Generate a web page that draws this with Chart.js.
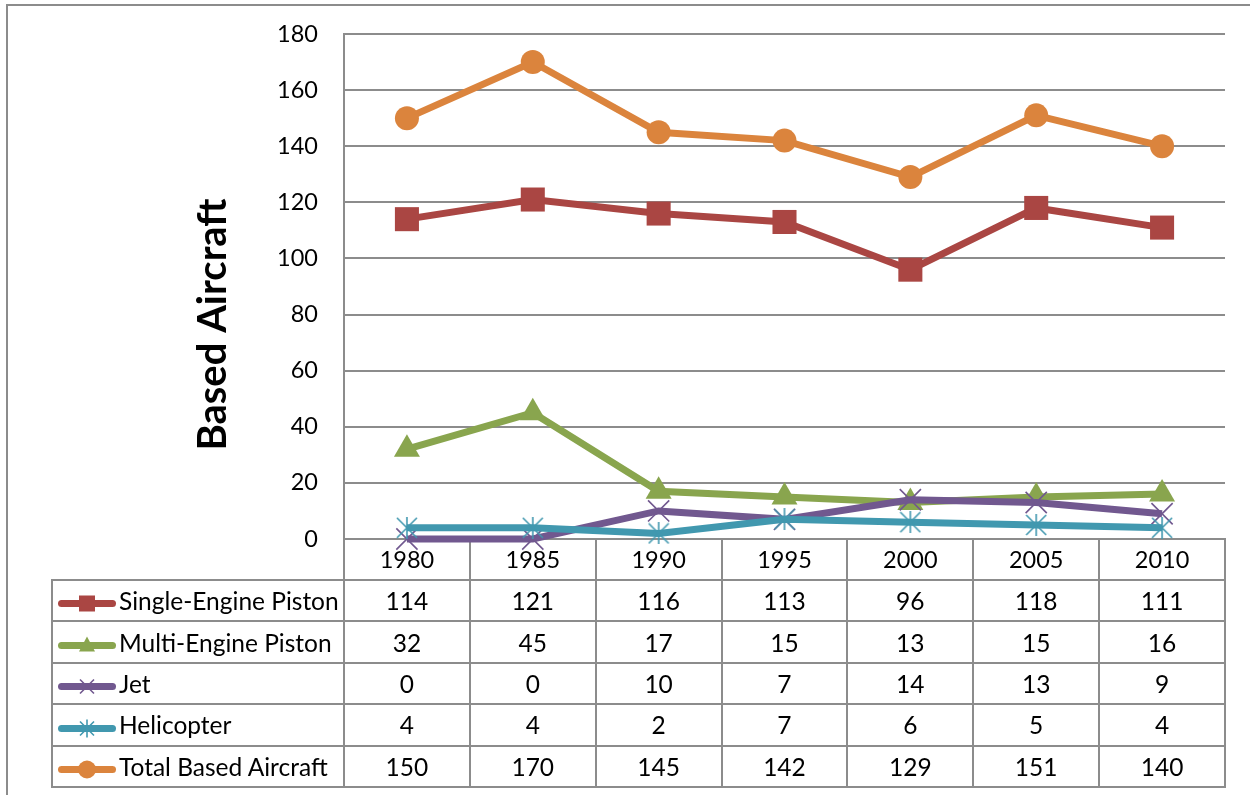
<!DOCTYPE html>
<html>
<head>
<meta charset="utf-8">
<script src="https://cdn.jsdelivr.net/npm/chart.js@4.4.1/dist/chart.umd.min.js"></script>
<style>
  html, body { margin: 0; padding: 0; background: #fff; overflow: hidden; }
  #wrap { position: relative; width: 1250px; height: 795px; font-family: Lato, "Open Sans", sans-serif; }
  #frame { position: absolute; left: 6px; top: 4px; width: 1300px; height: 900px; border: 2px solid #8c8c8c; pointer-events: none; }
  #tbl { position: absolute; border-collapse: collapse; table-layout: fixed; font: 24.5px Lato, sans-serif; color: #000; }
  #tbl td { border: 2px solid #8c8c8c; padding: 0; text-align: center; white-space: nowrap; overflow: hidden; }
  #tbl td.key { text-align: left; padding-left: 1px; }
  #tbl svg { vertical-align: middle; margin-right: 1px; }
</style>
</head>
<body>
<div id="wrap">
  <canvas id="grafico"></canvas>
  <table id="tbl"></table>
  <div id="frame"></div>
</div>
<script>
// Datos
const years = ['1980', '1985', '1990', '1995', '2000', '2005', '2010'];
const singleEngine = [114, 121, 116, 113, 96, 118, 111];
const multiEngine = [32, 45, 17, 15, 13, 15, 16];
const jet = [0, 0, 10, 7, 14, 13, 9];
const helicopter = [4, 4, 2, 7, 6, 5, 4];
const totalBased = [150, 170, 145, 142, 129, 151, 140];
const yMax = 180;
const yStep = 20;

const seriesNames = ['Single-Engine Piston', 'Multi-Engine Piston', 'Jet', 'Helicopter', 'Total Based Aircraft'];
const seriesValues = [singleEngine, multiEngine, jet, helicopter, totalBased];
const seriesColors = ['#AA4643', '#89A54E', '#71588F', '#4198AF', '#DB843D'];

const gridGrey = '#8c8c8c';

// marcador estrella estilo Excel (X + linea vertical)
function starMarker(color, size) {
  const c = document.createElement('canvas');
  c.width = size; c.height = size;
  const g = c.getContext('2d');
  const m = size / 2, r = size / 2 - 1;
  g.strokeStyle = color;
  g.lineWidth = 1.6;
  g.beginPath();
  g.moveTo(m - r, m - r); g.lineTo(m + r, m + r);
  g.moveTo(m + r, m - r); g.lineTo(m - r, m + r);
  g.moveTo(m, 0); g.lineTo(m, size);
  g.stroke();
  return c;
}

const markerStyles = ['rect', 'triangle', 'crossRot', starMarker(seriesColors[3], 22), 'circle'];
const markerRadius = [17, 15, 15, 11, 12];

const datasets = seriesNames.map((name, i) => ({
  label: name,
  data: seriesValues[i],
  borderColor: seriesColors[i],
  backgroundColor: seriesColors[i],
  borderWidth: 7,
  pointStyle: markerStyles[i],
  pointRadius: markerRadius[i],
  pointBackgroundColor: seriesColors[i],
  pointBorderColor: seriesColors[i],
  pointBorderWidth: (i === 2 || i === 3) ? 1.6 : 0,
  tension: 0,
  clip: false,
  order: seriesNames.length - i
}));

// Titulo del eje Y
const yTitlePlugin = {
  id: 'yTitle',
  afterDraw(chart) {
    const { ctx, chartArea } = chart;
    ctx.save();
    ctx.translate(chartArea.left - 131, (chartArea.top + chartArea.bottom) / 2 + 38);
    ctx.rotate(-Math.PI / 2);
    ctx.font = 'bold 40px Lato, sans-serif';
    ctx.fillStyle = '#000';
    ctx.textAlign = 'center';
    ctx.textBaseline = 'middle';
    ctx.fillText('Based Aircraft', 0, 0);
    ctx.restore();
  }
};

const grafico = new Chart(document.getElementById('grafico'), {
  type: 'line',
  data: { labels: years, datasets },
  options: {
    responsive: true,
    maintainAspectRatio: false,
    animation: false,
    layout: { padding: { left: 0, top: 34, right: 25, bottom: 215 } },
    plugins: { legend: { display: false }, tooltip: { enabled: false } },
    scales: {
      x: {
        offset: true,
        afterFit(scale) { scale.height = 41; },
        grid: {
          offset: true,
          drawOnChartArea: false,
          drawTicks: true,
          tickLength: 41,
          color: gridGrey,
          lineWidth: 2
        },
        border: { display: true, color: gridGrey, width: 2 },
        ticks: { color: '#000', font: { family: 'Lato', size: 23.5 }, padding: -34, maxRotation: 0 }
      },
      y: {
        min: 0,
        max: yMax,
        afterFit(scale) {
          scale.width = 344;
          scale.paddingTop = 0;
          scale.paddingBottom = 0;
        },
        grid: { color: gridGrey, lineWidth: 2, drawTicks: false },
        border: { display: true, color: gridGrey, width: 2 },
        ticks: { stepSize: yStep, color: '#000', font: { family: 'Lato', size: 23.5 }, padding: 26 }
      }
    }
  },
  plugins: [yTitlePlugin]
});

// Clave de leyenda dentro de la tabla
function keySvg(i) {
  const c = seriesColors[i];
  const cx = 33, cy = 10.5;
  let marker = '';
  if (i === 0) marker = `<rect x="${cx - 8}" y="${cy - 8}" width="16" height="16" fill="${c}"/>`;
  if (i === 1) marker = `<polygon points="${cx},${cy - 9} ${cx + 8},${cy + 6} ${cx - 8},${cy + 6}" fill="${c}"/>`;
  if (i === 2) marker = `<path d="M${cx - 7},${cy - 7}L${cx + 7},${cy + 7}M${cx + 7},${cy - 7}L${cx - 7},${cy + 7}" stroke="${c}" stroke-width="1.6"/>`;
  if (i === 3) marker = `<path d="M${cx - 7},${cy - 7}L${cx + 7},${cy + 7}M${cx + 7},${cy - 7}L${cx - 7},${cy + 7}M${cx},${cy - 9}L${cx},${cy + 9}" stroke="${c}" stroke-width="1.6"/>`;
  if (i === 4) marker = `<circle cx="${cx}" cy="${cy}" r="9" fill="${c}"/>`;
  return `<svg width="64" height="21" viewBox="0 0 64 21"><line x1="7.5" y1="${cy}" x2="58.5" y2="${cy}" stroke="${c}" stroke-width="7" stroke-linecap="round"/>${marker}</svg>`;
}

// Tabla de datos alineada con las columnas del eje X
function construirTabla(chart) {
  const area = chart.chartArea;
  const tableLeft = 52;
  const colW = (area.right - area.left) / years.length;
  const tbl = document.getElementById('tbl');
  const top = chart.scales.x.bottom;
  const rowH = 41.4;
  tbl.style.left = (tableLeft - 1) + 'px';
  tbl.style.top = (top - 1) + 'px';
  tbl.style.width = (area.right - tableLeft + 2) + 'px';

  let html = '<colgroup>';
  html += `<col style="width:${area.left - tableLeft}px">`;
  years.forEach(() => { html += `<col style="width:${colW}px">`; });
  html += '</colgroup>';
  seriesNames.forEach((name, i) => {
    html += `<tr style="height:${rowH}px"><td class="key">${keySvg(i)}${name}</td>`;
    seriesValues[i].forEach(v => { html += `<td>${v}</td>`; });
    html += '</tr>';
  });
  tbl.innerHTML = html;
}

construirTabla(grafico);
</script>
</body>
</html>
